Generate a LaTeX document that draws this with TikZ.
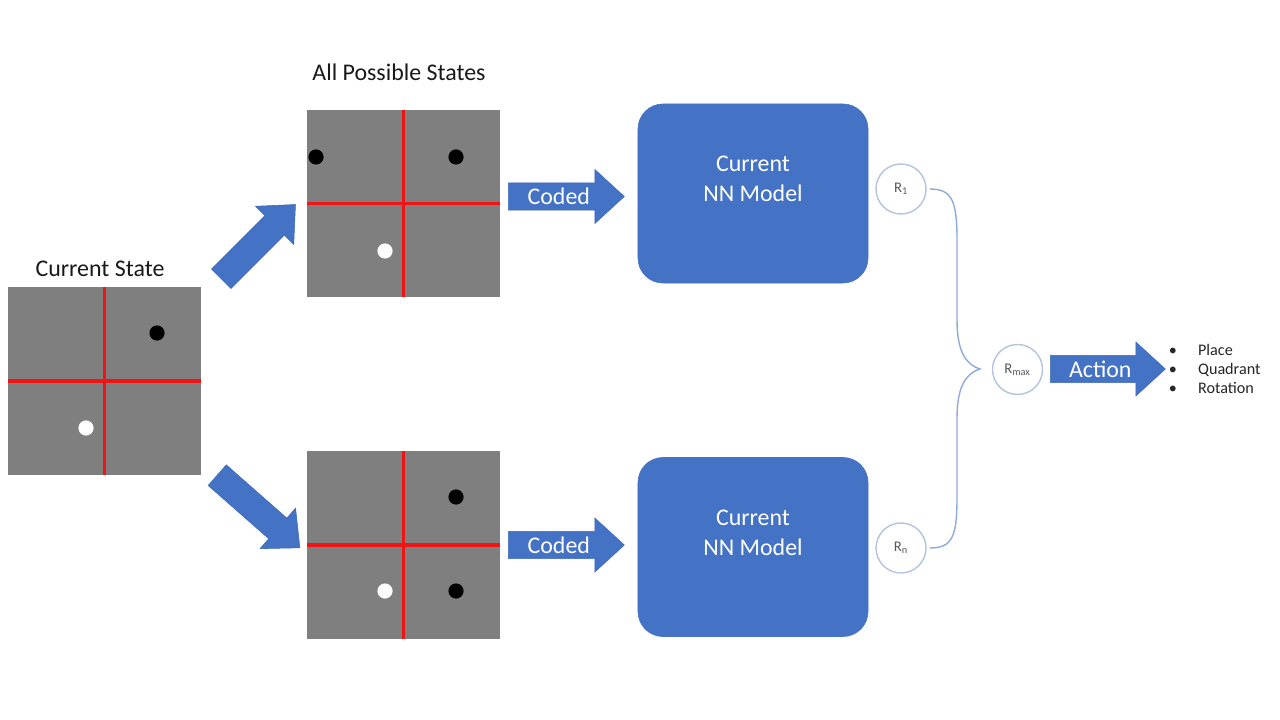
\documentclass[tikz,border=0pt]{standalone}
\usepackage{fontspec}
\setmainfont{Carlito}
\usetikzlibrary{positioning}
\usetikzlibrary{shapes.arrows}

\definecolor{boardgray}{HTML}{7F7F7F}
\definecolor{boardred}{HTML}{F01414}
\definecolor{nnblue}{HTML}{4472C4}
\definecolor{nnedge}{HTML}{3F69B6}
\definecolor{ringblue}{HTML}{B4C3DF}
\definecolor{braceblue}{HTML}{8FAADC}
\definecolor{labelgray}{HTML}{595959}

\tikzset{
  board/.style={fill=boardgray, draw=none, minimum width=4.825cm, minimum height=4.675cm, inner sep=0pt},
  gridline/.style={draw=boardred, line width=2.4pt},
  blackdot/.style={circle, fill=black, minimum size=0.38cm, inner sep=0pt},
  whitedot/.style={circle, fill=white, minimum size=0.38cm, inner sep=0pt},
  fatarrow/.style={single arrow, fill=nnblue, draw=nnedge, line width=0.4pt,
    single arrow head extend=0.33cm, single arrow tip angle=85, anchor=tail,
    text height=13.5pt, text depth=2pt, inner ysep=1.8pt, inner xsep=3pt,
    text=white, font=\fontsize{17}{20}\selectfont},
  nnbox/.style={rectangle, rounded corners=0.625cm, fill=nnblue, draw=nnblue,
    minimum width=5.75cm, minimum height=4.475cm},
  nntext/.style={align=center, text=white, font=\fontsize{17}{21.3}\selectfont},
  title/.style={font=\fontsize{17}{20}\selectfont, text=black!90},
  ring/.style={circle, draw=ringblue, line width=1pt, fill=white, minimum size=1.25cm, inner sep=0pt,
    text=labelgray, font=\fontsize{10.5}{12}\selectfont},
  brace/.style={draw=braceblue, line width=1pt},
}

\begin{document}
\begin{tikzpicture}[x=0.025cm, y=-0.025cm]
  \fill[white] (0,0) rectangle (1280,720);
  \useasboundingbox (0,0) rectangle (1280,720);

  % current state
  \node[title] (cur_title) at (100,269) {Current State};
  \node[board] (cur) at (104.5,381) {};
  \draw[gridline] (cur.north) -- (cur.south);
  \draw[gridline] (cur.west) -- (cur.east);
  \node[blackdot] (cur_b) at (157,333) {};
  \node[whitedot] (cur_w) at (86,428) {};

  % possible states
  \node[title] (all_title) at (399,72) {All Possible States};
  \node[board] (top) at (403.5,203.5) {};
  \draw[gridline] (top.north) -- (top.south);
  \draw[gridline] (top.west) -- (top.east);
  \node[blackdot] (top_b1) at (316,157) {};
  \node[blackdot] (top_b2) at (456,157) {};
  \node[whitedot] (top_w) at (385,251) {};

  \node[board] (bot) at (403.5,545) {};
  \draw[gridline] (bot.north) -- (bot.south);
  \draw[gridline] (bot.west) -- (bot.east);
  \node[blackdot] (bot_b1) at (456,497) {};
  \node[blackdot] (bot_b2) at (456,591) {};
  \node[whitedot] (bot_w) at (385,591) {};

  % branching arrows
  \node[fatarrow, rotate=45, minimum height=2.625cm] (up_arrow) at (221,279) {};
  \node[fatarrow, rotate=-41.3, minimum height=2.75cm] (down_arrow) at (217,475) {};

  % coding and model
  \node[fatarrow, minimum height=2.9cm] (coded_top) at (508,196.5) {Coded};
  \node[fatarrow, minimum height=2.9cm] (coded_bot) at (508,545) {Coded};

  \node[nnbox] (nn_top) at (753,193.5) {};
  \node[nntext] (nn_top_txt) at (753,179) {Current\\NN Model};
  \node[nnbox] (nn_bot) at (753,547) {};
  \node[nntext] (nn_bot_txt) at (753,533) {Current\\NN Model};

  % rewards
  \node[ring] (r_one) at (901,189) {R\textsubscript{1}};
  \node[ring] (r_n) at (901,548) {R\textsubscript{n}};
  \node[ring] (r_max) at (1017.5,369.5) {R\textsubscript{max}};
  \coordinate (brace_tip) at (980,369);
  \draw[brace, shorten <=2pt, shorten >=2pt] (r_one.east)
    .. controls +(25,0) and +(0,-40) .. (957,240) -- (957,320)
    .. controls (957,348) and (964,364) .. (brace_tip)
    .. controls (964,374) and (957,390) .. (957,418) -- (957,498)
    .. controls +(0,40) and +(25,0) .. (r_n.east);

  % action
  \node[fatarrow, minimum height=2.875cm] (action) at (1050,369) {Action};
  \node[anchor=west, align=left, font=\fontsize{11.5}{13.5}\selectfont, text=black!85] (action_list) at (1164,371)
    {\begin{tabular}{@{}l@{\hspace{15pt}}l@{}}\textbullet & Place\\ \textbullet & Quadrant\\ \textbullet & Rotation\end{tabular}};
\end{tikzpicture}
\end{document}
